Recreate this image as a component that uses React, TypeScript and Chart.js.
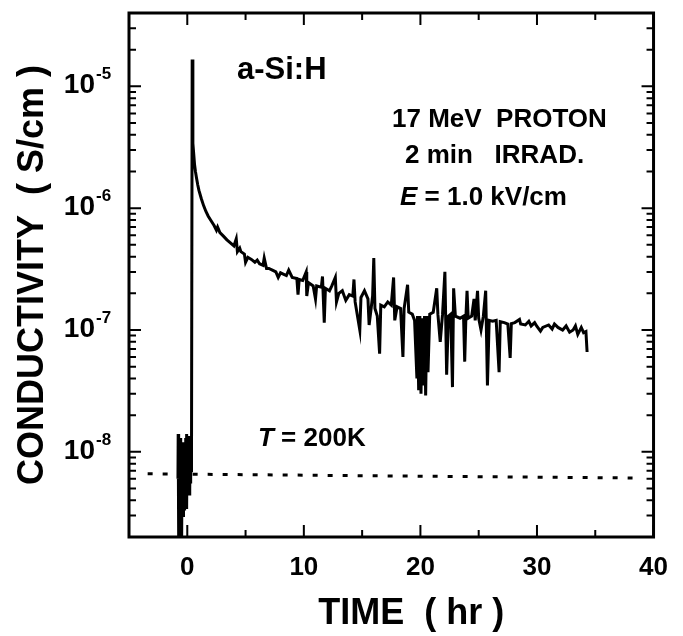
import React, { useEffect, useRef } from "react";
import { Chart, registerables } from "chart.js";

Chart.register(...registerables);

// Photoconductivity trace of a-Si:H (time in hours, conductivity in S/cm)
const TIME_HR = [
  -0.8, -0.78, -0.76, -0.74, -0.72, -0.7, -0.68, -0.66, -0.63, -0.6,
  -0.58, -0.55, -0.52, -0.5, -0.47, -0.44, -0.42, -0.39, -0.36, -0.34,
  -0.31, -0.28, -0.26, -0.23, -0.2, -0.18, -0.15, -0.12, -0.1, -0.07,
  -0.04, -0.02, 0.01, 0.04, 0.06, 0.09, 0.12, 0.14, 0.17, 0.2,
  0.22, 0.25, 0.28, 0.3,
  0.36, 0.42, 0.48, 0.55, 0.62, 0.7, 0.8, 0.9, 1.0,
  1.2, 1.4, 1.6, 1.8, 2.0, 2.3, 2.5, 2.6, 2.8, 3.1,
  3.4, 3.7, 4.0, 4.2, 4.3, 4.5, 4.6, 4.9, 5.0, 5.2, 5.5, 5.8,
  6.0, 6.2, 6.5, 6.6, 6.8, 7.0, 7.3, 7.6, 7.8, 8.0, 8.5, 8.7, 9.0,
  9.4, 9.5, 9.6, 9.9, 10.2, 10.25, 10.4, 10.8, 11.0, 11.1,
  11.5, 11.6, 11.75, 11.85, 12.2, 12.4, 12.7, 12.8, 13.0, 13.3,
  13.6, 13.9, 14.2, 14.3, 14.4, 14.8, 14.9, 15.2, 15.5, 15.6,
  15.9, 16.0, 16.1, 16.3, 16.5, 16.6, 16.9, 17.2, 17.5, 17.7,
  17.8, 18.0, 18.3, 18.5, 18.6, 18.9, 19.0, 19.3, 19.5, 19.7,
  19.75, 19.85, 19.95, 20.05, 20.15, 20.25, 20.35, 20.45, 20.55, 20.65,
  20.8, 21.1, 21.4, 21.5, 21.7, 21.9, 22.1, 22.25, 22.4, 22.6,
  22.75, 22.85, 23.0, 23.4, 23.7, 23.8, 23.9, 24.0, 24.1, 24.4,
  24.6, 24.7, 24.9, 25.0, 25.2, 25.4, 25.6, 25.75, 25.9, 26.2,
  26.5, 26.75, 26.85, 27.2, 27.5, 27.7, 27.8, 28.1, 28.5, 28.6,
  29.0, 29.3, 29.5, 29.8, 30.0, 30.3, 30.5, 31.0, 31.3, 31.5, 31.8, 32.2, 32.5,
  32.8, 33.1, 33.3, 33.5, 33.8, 34.0, 34.2, 34.3,
];

const SIGMA = [
  6e-9, 1.4e-8, 3e-9, 1.2e-8, 2e-9, 1.1e-8, 4e-9, 1.2e-8, 1.5e-9, 1.3e-8,
  3e-9, 1.2e-8, 3.5e-9, 1.1e-8, 1.8e-9, 1.2e-8, 3.3e-9, 1.15e-8, 3e-9, 1.2e-8,
  4e-9, 1.1e-8, 3.5e-9, 1.2e-8, 3.3e-9, 1.15e-8, 4e-9, 1.3e-8, 3.5e-9, 1.4e-8,
  3.5e-9, 1.1e-8, 4.5e-9, 1.2e-8, 5e-9, 1.35e-8, 5e-9, 1.2e-8, 4.5e-9, 1.3e-8,
  5e-9, 1.0e-8, 5.5e-9, 7e-9,
  7e-9, 1.66e-5, 3.4e-6, 2.8e-6, 2.3e-6, 2.0e-6, 1.75e-6, 1.55e-6, 1.4e-6,
  1.2e-6, 1.05e-6, 9.4e-7, 8.6e-7, 8.0e-7, 7.2e-7, 6.6e-7, 7.0e-7, 6.3e-7, 5.9e-7,
  5.5e-7, 5.2e-7, 4.9e-7, 5.6e-7, 4.4e-7, 4.7e-7, 4.4e-7, 4.2e-7, 3.6e-7, 3.95e-7, 3.8e-7, 3.6e-7,
  3.75e-7, 3.5e-7, 3.4e-7, 3.9e-7, 3.2e-7, 3.2e-7, 3.1e-7, 3.0e-7, 2.7e-7, 2.95e-7, 2.8e-7, 3.1e-7, 2.7e-7,
  2.65e-7, 1.95e-7, 2.6e-7, 2.55e-7, 3.0e-7, 1.9e-7, 2.45e-7, 2.3e-7, 1.8e-7, 2.3e-7,
  2.25e-7, 2.75e-7, 1.15e-7, 2.2e-7, 2.1e-7, 2.3e-7, 2.7e-7, 1.7e-7, 2.0e-7, 2.1e-7,
  1.75e-7, 1.95e-7, 1.9e-7, 2.6e-7, 1.7e-7, 1.0e-7, 1.85e-7, 2.1e-7, 1.8e-7, 1.1e-7,
  1.9e-7, 3.9e-7, 1.5e-7, 1.3e-7, 6.4e-8, 1.6e-7, 1.55e-7, 1.7e-7, 1.6e-7, 2.7e-7,
  1.2e-7, 1.55e-7, 1.5e-7, 6.0e-8, 1.5e-7, 2.35e-7, 1.4e-7, 1.35e-7, 1.2e-7, 4e-8,
  1.3e-7, 3.2e-8, 1.3e-7, 3e-8, 1.25e-7, 3.5e-8, 1.3e-7, 2.9e-8, 1.3e-7, 4.5e-8,
  1.35e-7, 1.4e-7, 2.2e-7, 1.35e-7, 8e-8, 1.35e-7, 3.0e-7, 4.3e-8, 1.3e-7, 1.35e-7,
  3.4e-8, 2.2e-7, 1.3e-7, 1.25e-7, 1.3e-7, 5.5e-8, 1.25e-7, 2.1e-7, 1.25e-7, 1.3e-7,
  1.8e-7, 1.2e-7, 2.1e-7, 1.25e-7, 1.0e-7, 1.3e-7, 2.1e-7, 3.5e-8, 1.2e-7, 1.18e-7,
  1.2e-7, 4.5e-8, 1.17e-7, 1.15e-7, 1.12e-7, 5.9e-8, 1.13e-7, 1.15e-7, 1.22e-7, 1.12e-7,
  1.1e-7, 1.18e-7, 1.08e-7, 1.15e-7, 1.07e-7, 9.8e-8, 1.05e-7, 1.1e-7, 1.02e-7, 1.12e-7, 1.05e-7, 1.0e-7, 1.08e-7,
  9.6e-8, 1.0e-7, 1.08e-7, 9.2e-8, 1.05e-7, 9.5e-8, 9.7e-8, 6.6e-8,
];

// Dark-current level (dotted line)
const DARK_TIME = [-3.4, 38.2];
const DARK_SIGMA = [6.6e-9, 6.1e-9];

const X_MIN = -5;
const X_MAX = 40;
const Y_MIN = 2e-9;
const Y_MAX = 4e-5;
const X_TICKS = [0, 10, 20, 30, 40];
const X_MINOR_TICKS = [-5, 5, 15, 25, 35];
const Y_DECADES = [-5, -6, -7, -8];

const FONT = '"Liberation Sans", Arial, Helvetica, sans-serif';

const framePlugin = {
  id: "frameTicksLabels",
  afterDraw(chart: any) {
    const { ctx, chartArea: a } = chart;
    const xs = chart.scales.x;
    const ys = chart.scales.y;
    ctx.save();
    ctx.strokeStyle = "#000";
    ctx.fillStyle = "#000";

    // frame
    ctx.lineWidth = 3;
    ctx.strokeRect(a.left, a.top, a.right - a.left, a.bottom - a.top);

    // inward ticks
    ctx.lineWidth = 2;
    const vline = (px: number, len: number) => {
      ctx.beginPath();
      ctx.moveTo(px, a.bottom);
      ctx.lineTo(px, a.bottom - len);
      ctx.moveTo(px, a.top);
      ctx.lineTo(px, a.top + len);
      ctx.stroke();
    };
    X_TICKS.forEach((v) => vline(xs.getPixelForValue(v), 12));
    X_MINOR_TICKS.forEach((v) => vline(xs.getPixelForValue(v), 7));

    for (let d = -9; d <= -5; d++) {
      for (let m = 1; m <= 9; m++) {
        const v = m * Math.pow(10, d);
        if (v < Y_MIN * 0.999 || v > Y_MAX * 1.001) continue;
        const py = ys.getPixelForValue(v);
        const len = m === 1 ? 12 : 7;
        ctx.beginPath();
        ctx.moveTo(a.left, py);
        ctx.lineTo(a.left + len, py);
        ctx.moveTo(a.right, py);
        ctx.lineTo(a.right - len, py);
        ctx.stroke();
      }
    }

    // y tick labels with superscript exponents
    ctx.textBaseline = "alphabetic";
    Y_DECADES.forEach((e) => {
      const py = ys.getPixelForValue(Math.pow(10, e));
      ctx.font = `bold 28px ${FONT}`;
      ctx.textAlign = "right";
      ctx.fillText("10", 95, py + 7);
      ctx.font = `bold 17px ${FONT}`;
      ctx.textAlign = "left";
      ctx.fillText(String(e), 96, py - 7);
    });

    // annotations
    ctx.textAlign = "left";
    ctx.font = `bold 31px ${FONT}`;
    ctx.fillText("a-Si:H", 237, 79);
    ctx.font = `bold 26px ${FONT}`;
    ctx.fillText("17 MeV  PROTON", 392, 127);
    ctx.fillText("2 min   IRRAD.", 405, 163);

    ctx.font = `italic bold 26px ${FONT}`;
    ctx.fillText("E", 400, 205);
    let w = ctx.measureText("E").width;
    ctx.font = `bold 26px ${FONT}`;
    ctx.fillText(" = 1.0 kV/cm", 400 + w, 205);

    ctx.font = `italic bold 26px ${FONT}`;
    ctx.fillText("T", 258, 446);
    w = ctx.measureText("T").width;
    ctx.font = `bold 26px ${FONT}`;
    ctx.fillText(" = 200K", 258 + w, 446);

    ctx.restore();
  },
};

export default function App() {
  const ref = useRef<HTMLCanvasElement | null>(null);

  useEffect(() => {
    if (!ref.current) return;
    const trace = TIME_HR.map((t, i) => ({ x: t, y: SIGMA[i] }));
    const dark = DARK_TIME.map((t, i) => ({ x: t, y: DARK_SIGMA[i] }));
    const chart = new Chart(ref.current, {
      type: "line",
      data: {
        datasets: [
          {
            label: "conductivity",
            data: trace,
            borderColor: "#000",
            borderWidth: 3,
            pointRadius: 0,
            tension: 0,
            fill: false,
          },
          {
            label: "dark",
            data: dark,
            borderColor: "#000",
            borderWidth: 3,
            borderDash: [5, 10],
            pointRadius: 0,
            fill: false,
          },
        ],
      },
      options: {
        responsive: false,
        animation: false,
        events: [],
        layout: { padding: { left: 0, right: 17, top: 13, bottom: 0 } },
        plugins: {
          legend: { display: false },
          tooltip: { enabled: false },
          title: { display: false },
        },
        scales: {
          x: {
            type: "linear",
            min: X_MIN,
            max: X_MAX,
            grid: { display: false, drawTicks: false },
            border: { display: false },
            afterBuildTicks: (s: any) => {
              s.ticks = X_TICKS.map((v) => ({ value: v }));
            },
            afterFit: (s: any) => {
              s.height = 99;
            },
            ticks: {
              color: "#000",
              padding: 15,
              maxRotation: 0,
              autoSkip: false,
              font: { family: FONT, size: 26, weight: "bold" },
            },
            title: {
              display: true,
              text: "    TIME  ( hr )",
              color: "#000",
              padding: { top: 0, bottom: 0 },
              font: { family: FONT, size: 36, weight: "bold" },
            },
          },
          y: {
            type: "logarithmic",
            min: Y_MIN,
            max: Y_MAX,
            grid: { display: false, drawTicks: false },
            border: { display: false },
            ticks: { display: false },
            afterFit: (s: any) => {
              s.width = 129;
            },
            title: {
              display: true,
              text: "CONDUCTIVITY  ( S/cm )",
              color: "#000",
              padding: { top: 11, bottom: 0 },
              font: { family: FONT, size: 36, weight: "bold" },
            },
          },
        },
      },
      plugins: [framePlugin],
    });
    return () => chart.destroy();
  }, []);

  return (
    <div style={{ position: "absolute", left: 0, top: 0, width: 683, height: 636, background: "#fff" }}>
      <canvas ref={ref} width={683} height={636} style={{ display: "block" }} />
    </div>
  );
}
